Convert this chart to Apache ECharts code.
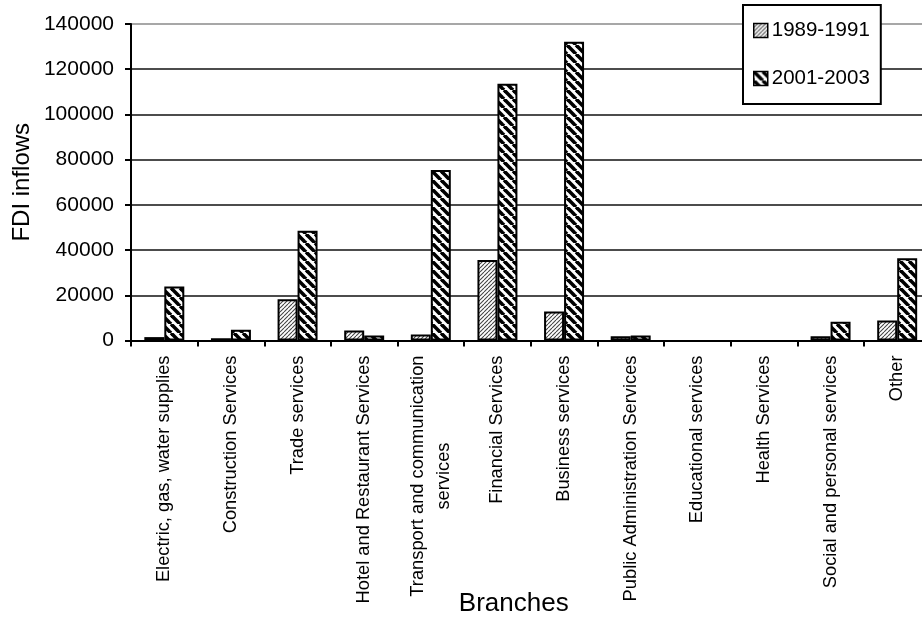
<!DOCTYPE html>
<html>
<head>
<meta charset="utf-8">
<script src="https://cdn.jsdelivr.net/npm/echarts@6/dist/echarts.min.js"></script>
<style>
  html, body { margin: 0; padding: 0; background: #fff; }
  #chart { width: 922px; height: 625px; }
</style>
</head>
<body>
<div id="chart"></div>
<script>
// Service branches on the category axis
const branches = [
  'Electric, gas, water supplies',
  'Construction Services',
  'Trade services',
  'Hotel and Restaurant Services',
  'Transport and communication\nservices',
  'Financial Services',
  'Business services',
  'Public Administration Services',
  'Educational services',
  'Health Services',
  'Social and personal services',
  'Other'
];

// FDI inflows per branch, two periods
const period1Name = '1989-1991';
const period1 = [1500, 1000, 18200, 4400, 2700, 35600, 12800, 1900, 0, 0, 1900, 8800];
const period2Name = '2001-2003';
const period2 = [23900, 4800, 48500, 2200, 75400, 113600, 132200, 2200, 0, 0, 8300, 36400];

// Value-axis ticks
const yMin = 0;
const yMax = 140000;
const yStep = 20000;

const FONT = '"Liberation Sans", Arial, Helvetica, sans-serif';

// Fine "/" hatch for the earlier period
function fineHatch() {
  const s = 4;
  const c = document.createElement('canvas');
  c.width = s; c.height = s;
  const g = c.getContext('2d');
  g.fillStyle = '#fff';
  g.fillRect(0, 0, s, s);
  g.strokeStyle = '#444';
  g.lineWidth = 1.1;
  for (let k = -1; k <= 1; k++) {
    g.beginPath();
    g.moveTo(k * s, s);
    g.lineTo(k * s + s, 0);
    g.stroke();
  }
  return c;
}

// Wide black "\" stripes for the later period
function wideStripe() {
  const s = 9;
  const c = document.createElement('canvas');
  c.width = s; c.height = s;
  const g = c.getContext('2d');
  g.fillStyle = '#fff';
  g.fillRect(0, 0, s, s);
  g.strokeStyle = '#000';
  g.lineWidth = 3.6;
  for (let k = -1; k <= 1; k++) {
    g.beginPath();
    g.moveTo(k * s, 0);
    g.lineTo(k * s + s, s);
    g.stroke();
  }
  return c;
}

// Width of the first line of a two-line label, so the second line can be centred under it
function textWidth(str, size) {
  const c = document.createElement('canvas').getContext('2d');
  c.font = size + 'px ' + FONT;
  return c.measureText(str).width;
}
const labelSize = 18.3;

function labelFormatter(v) {
  const parts = v.split('\n');
  if (parts.length === 1) return v;
  return parts.map(function (p, i) { return '{l' + i + '|' + p + '}'; }).join('\n');
}
const twoLine = branches.find(function (b) { return b.indexOf('\n') >= 0; });
const firstLineW = textWidth(twoLine.split('\n')[0], labelSize);

// Zero-height bars get no outline
function toBarData(values) {
  return values.map(function (v) {
    return v === 0 ? { value: v, itemStyle: { borderWidth: 0 } } : v;
  });
}

const chart = echarts.init(document.getElementById('chart'), null, { renderer: 'canvas' });

// Gridline colours, bottom to top; the top line is lighter
const gridColors = [];
for (let v = yMin; v <= yMax; v += yStep) gridColors.push(v === yMax ? '#8a8a8a' : '#111');

chart.setOption({
  backgroundColor: '#fff',
  animation: false,
  textStyle: { fontFamily: FONT, color: '#000' },
  grid: {
    left: 131,
    right: -8.5,
    top: 24,
    bottom: 284.5,
    containLabel: false,
    outerBoundsMode: 'none'
  },
  legend: {
    orient: 'vertical',
    left: 743,
    top: 5,
    width: 140,
    padding: [15, 11, 15, 10],
    itemGap: 27,
    itemWidth: 14,
    itemHeight: 14,
    icon: 'rect',
    backgroundColor: '#fff',
    borderColor: '#000',
    borderWidth: 2,
    borderRadius: 0,
    textStyle: { fontFamily: FONT, fontSize: 20.5, color: '#000', padding: [0, 0, 0, -1] },
    itemStyle: { borderColor: '#000', borderWidth: 1.5 },
    data: [period1Name, period2Name]
  },
  xAxis: {
    type: 'category',
    data: branches,
    boundaryGap: true,
    name: 'Branches',
    nameLocation: 'middle',
    nameGap: 250,
    nameMoveOverlap: false,
    nameTextStyle: { fontFamily: FONT, fontSize: 26, color: '#000', padding: [0, 34, 0, 0] },
    axisLine: { show: true, lineStyle: { color: '#000', width: 2 } },
    axisTick: { show: true, alignWithLabel: false, length: 6, lineStyle: { color: '#000', width: 2 } },
    axisLabel: {
      interval: 0,
      rotate: 90,
      margin: 15,
      fontFamily: FONT,
      fontSize: labelSize,
      color: '#000',
      lineHeight: 26,
      formatter: labelFormatter,
      rich: {
        l0: { fontFamily: FONT, fontSize: labelSize, color: '#000', lineHeight: 26 },
        l1: { fontFamily: FONT, fontSize: labelSize, color: '#000', lineHeight: 26, width: firstLineW, align: 'center' }
      }
    },
    splitLine: { show: false }
  },
  yAxis: {
    type: 'value',
    min: yMin,
    max: yMax,
    interval: yStep,
    name: 'FDI inflows',
    nameLocation: 'middle',
    nameGap: 97,
    nameMoveOverlap: false,
    nameTextStyle: { fontFamily: FONT, fontSize: 24, color: '#000' },
    axisLine: { show: true, lineStyle: { color: '#000', width: 2 } },
    axisTick: { show: true, length: 6, lineStyle: { color: '#000', width: 2 } },
    axisLabel: {
      margin: 17,
      fontFamily: FONT,
      fontSize: 21,
      color: '#000',
      formatter: function (v) { return String(v); }
    },
    splitLine: { show: true, lineStyle: { color: gridColors, width: 1.6 } }
  },
  series: [
    {
      name: period1Name,
      type: 'bar',
      data: toBarData(period1),
      barGap: '0%',
      barCategoryGap: '40%',
      itemStyle: {
        color: { image: fineHatch(), repeat: 'repeat' },
        borderColor: '#000',
        borderWidth: 2
      }
    },
    {
      name: period2Name,
      type: 'bar',
      data: toBarData(period2),
      barGap: '0%',
      barCategoryGap: '40%',
      itemStyle: {
        color: { image: wideStripe(), repeat: 'repeat' },
        borderColor: '#000',
        borderWidth: 2
      }
    }
  ]
});
</script>
</body>
</html>
